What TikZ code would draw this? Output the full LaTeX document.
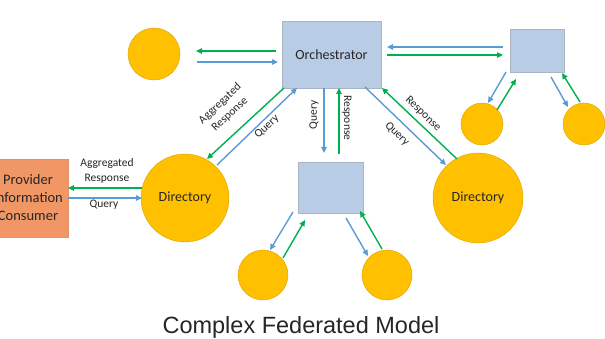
\documentclass[tikz,border=0pt]{standalone}
\usepackage{fontspec}
\setmainfont{Carlito}
\newfontfamily\titlefont{Liberation Sans}
\usetikzlibrary{arrows.meta}

\definecolor{gold}{RGB}{255,192,0}
\definecolor{boxblue}{RGB}{184,204,230}
\definecolor{boxedge}{RGB}{170,180,195}
\definecolor{salmon}{RGB}{241,151,102}
\definecolor{arrgreen}{RGB}{0,176,80}
\definecolor{arrblue}{RGB}{91,155,213}
\definecolor{ink}{RGB}{38,38,38}

\tikzset{
  peer/.style={circle, fill=gold, draw=gold!85!black, line width=0.4pt, inner sep=0pt, text=ink, font=\fontsize{14}{16}\selectfont},
  hub/.style={rectangle, fill=boxblue, draw=boxedge, line width=0.6pt, inner sep=0pt, text=ink, font=\fontsize{14}{16}\selectfont},
  consumer/.style={rectangle, fill=salmon, draw=salmon!85!gray, line width=0.6pt, inner sep=0pt, text=ink, align=center, font=\fontsize{14.5}{18}\selectfont},
  qry/.style={draw=arrblue, line width=1.4pt, -{Triangle[length=6pt,width=5.5pt]}},
  rsp/.style={draw=arrgreen, line width=1.4pt, -{Triangle[length=6pt,width=5.5pt]}},
  lbl/.style={text=ink, font=\fontsize{11.5}{14.5}\selectfont, align=center, inner sep=0pt}
}

\begin{document}
\begin{tikzpicture}[x=1pt, y=-1pt]
\useasboundingbox (0,0) rectangle (605,339);

% nodes
\node[hub, minimum width=99pt, minimum height=67pt] (orch) at (331.5,54.5) {Orchestrator};
\node[hub, minimum width=54pt, minimum height=43pt] (rbox) at (537,50.5) {};
\node[hub, minimum width=65pt, minimum height=51pt] (mbox) at (330.5,187.5) {};
\node[consumer, minimum width=80pt, minimum height=78pt] (prov) at (28,198) {Provider\\Information\\Consumer};

\node[peer, minimum size=52pt] (ctl) at (154,54) {};
\node[peer, minimum size=42pt] (rc1) at (482,124) {};
\node[peer, minimum size=42pt] (rc2) at (584,124) {};
\node[peer, minimum size=88pt] (dirL) at (185,198) {Directory};
\node[peer, minimum size=90pt] (dirR) at (478,198) {Directory};
\node[peer, minimum size=50pt] (bc1) at (263,275) {};
\node[peer, minimum size=50pt] (bc2) at (387,275) {};

% connector end points
\coordinate (a1) at (276,51);  \coordinate (a2) at (196,51);
\coordinate (a3) at (197,62);  \coordinate (a4) at (278,62);
\coordinate (b1) at (503,47);  \coordinate (b2) at (387,47);
\coordinate (b3) at (387,55);  \coordinate (b4) at (503,55);
\coordinate (c1) at (506,72);  \coordinate (c2) at (488,103);
\coordinate (c3) at (497,110); \coordinate (c4) at (516,79);
\coordinate (d1) at (551,77);  \coordinate (d2) at (568,107);
\coordinate (d3) at (580,102); \coordinate (d4) at (562,73);
\coordinate (e1) at (365,87);  \coordinate (e2) at (446,165);
\coordinate (e3) at (457,159); \coordinate (e4) at (382,88);
\coordinate (f1) at (284,88);  \coordinate (f2) at (207,159);
\coordinate (f3) at (217,165); \coordinate (f4) at (297,88);
\coordinate (g1) at (324,88);  \coordinate (g2) at (324,153);
\coordinate (g3) at (339,154); \coordinate (g4) at (339,88);
\coordinate (h1) at (293,212); \coordinate (h2) at (270,250);
\coordinate (h3) at (283,258); \coordinate (h4) at (305,220);
\coordinate (k1) at (346,218); \coordinate (k2) at (368,256);
\coordinate (k3) at (382,249); \coordinate (k4) at (360,211);
\coordinate (m1) at (142,188); \coordinate (m2) at (68,188);
\coordinate (m3) at (68,198);  \coordinate (m4) at (142,198);

% orchestrator <-> top-left peer
\draw[rsp] (a1) -- (a2);
\draw[qry] (a3) -- (a4);
% orchestrator <-> right hub
\draw[qry] (b1) -- (b2);
\draw[rsp] (b3) -- (b4);
% right hub <-> its peers
\draw[qry] (c1) -- (c2);
\draw[rsp] (c3) -- (c4);
\draw[qry] (d1) -- (d2);
\draw[rsp] (d3) -- (d4);
% orchestrator <-> right directory
\draw[qry] (e1) -- (e2);
\draw[rsp] (e3) -- (e4);
% orchestrator <-> left directory
\draw[rsp] (f1) -- (f2);
\draw[qry] (f3) -- (f4);
% orchestrator <-> middle hub
\draw[qry] (g1) -- (g2);
\draw[rsp] (g3) -- (g4);
% middle hub <-> its peers
\draw[qry] (h1) -- (h2);
\draw[rsp] (h3) -- (h4);
\draw[qry] (k1) -- (k2);
\draw[rsp] (k3) -- (k4);
% consumer <-> left directory
\draw[rsp] (m1) -- (m2);
\draw[qry] (m3) -- (m4);

% connector labels
\node[lbl] (l1) at (107,171) {Aggregated\\Response};
\node[lbl] (l2) at (104,205) {Query};
\node[lbl, rotate=43] (l3) at (225,109) {Aggregated\\Response};
\node[lbl, rotate=43] (l4) at (267,127) {Query};
\node[lbl, rotate=90] (l5) at (314,115) {Query};
\node[lbl, rotate=-90] (l6) at (347,118) {Response};
\node[lbl, rotate=-44] (l7) at (397,134) {Query};
\node[lbl, rotate=-44] (l8) at (423,114) {Response};

% caption
\node[text=black!85, font=\titlefont\fontsize{23.5}{26}\selectfont, inner sep=0pt] (cap) at (301,327) {Complex Federated Model};
\end{tikzpicture}
\end{document}
